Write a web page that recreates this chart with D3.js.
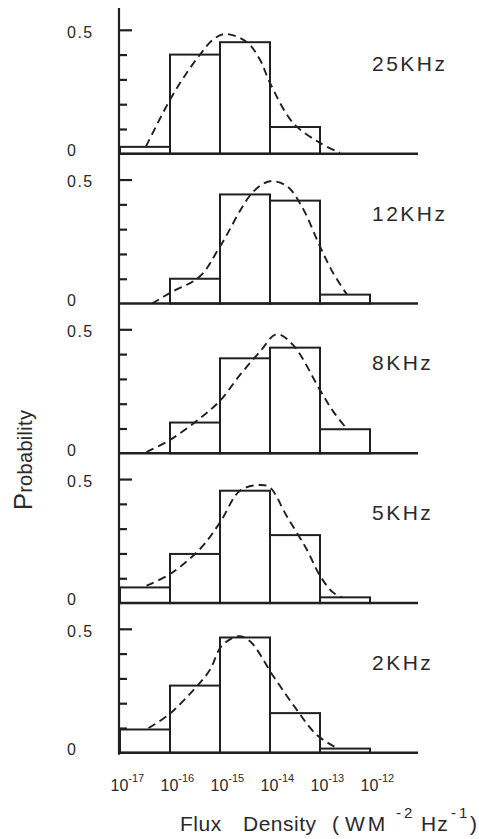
<!DOCTYPE html>
<html>
<head>
<meta charset="utf-8">
<script src="https://cdn.jsdelivr.net/npm/d3@7"></script>
<style>
  html, body { margin: 0; padding: 0; background: #fff; }
  svg { display: block; font-family: "Liberation Sans", Arial, sans-serif; }
</style>
</head>
<body>
<div id="chart"></div>
<script>
// decade bins, 10^-17 .. 10^-12
const decades = [-17, -16, -15, -14, -13, -12]
const freqLabels = ['25KHz', '12KHz', '8KHz', '5KHz', '2KHz']

// histogram heights per bin
const probs25 = [0.028, 0.40, 0.45, 0.108, 0]
const probs12 = [0, 0.10, 0.44, 0.415, 0.036]
const probs8 = [0, 0.124, 0.383, 0.426, 0.097]
const probs5 = [0.063, 0.198, 0.453, 0.274, 0.023]
const probs2 = [0.094, 0.271, 0.465, 0.16, 0.017]

// dashed fits, [log10 flux, probability]
const fit25 = [[-16.48, 0.03], [-16.0, 0.218], [-15.67, 0.325], [-15.4, 0.40], [-15.14, 0.46],
  [-14.9, 0.483], [-14.46, 0.45], [-14.2, 0.379], [-14.0, 0.286], [-13.54, 0.125], [-13.0, 0.044], [-12.6, 0.004]]
const fit12 = [[-16.36, 0.0], [-16.0, 0.043], [-15.4, 0.11], [-15.0, 0.23], [-14.34, 0.45],
  [-14.0, 0.493], [-13.66, 0.473], [-13.36, 0.39], [-13.0, 0.23], [-12.74, 0.124], [-12.46, 0.036]]
const fit8 = [[-16.47, 0.005], [-16.0, 0.054], [-15.4, 0.141], [-15.0, 0.212], [-14.6, 0.316],
  [-14.2, 0.41], [-13.87, 0.48], [-13.54, 0.437], [-13.0, 0.255], [-12.74, 0.17], [-12.46, 0.098]]
const fit5 = [[-16.47, 0.07], [-16.0, 0.117], [-15.4, 0.218], [-15.0, 0.325], [-14.6, 0.453],
  [-14.2, 0.476], [-14.0, 0.466], [-13.67, 0.352], [-13.27, 0.218], [-13.0, 0.11], [-12.74, 0.043], [-12.56, 0.023]]
const fit2 = [[-16.43, 0.10], [-16.03, 0.153], [-15.5, 0.26], [-15.2, 0.335], [-14.97, 0.43],
  [-14.63, 0.47], [-14.4, 0.45], [-13.93, 0.308], [-13.47, 0.175], [-13.07, 0.073], [-12.67, 0.02]]

const panels = freqLabels.map((label, i) => ({
  label,
  probs: [probs25, probs12, probs8, probs5, probs2][i],
  fit: [fit25, fit12, fit8, fit5, fit2][i]
}))

const width = 479
const height = 839
const ink = '#202020'
const textInk = '#2a2a2a'
const font = '"Liberation Sans", Arial, sans-serif'
const panelStep = 149.75

const svg = d3.select('#chart')
  .append('svg')
  .attr('width', width)
  .attr('height', height)

const x = d3.scaleLog().domain([1e-17, 1e-11]).range([120, 420])
const y = d3.scaleLinear().domain([0, 0.6]).range([148.8, 0])

const fitLine = d3.line()
  .x(d => x(Math.pow(10, d[0])))
  .y(d => y(d[1]))
  .curve(d3.curveCatmullRom)

// shared vertical axis
svg.append('line')
  .attr('x1', 119).attr('x2', 119)
  .attr('y1', 8).attr('y2', 5 + panelStep * 4 + y(0) + 2)
  .attr('stroke', ink)
  .attr('stroke-width', 2.2)

panels.forEach((p, i) => {
  const g = svg.append('g')
    .attr('transform', `translate(0, ${5 + panelStep * i})`)

  // bars
  g.selectAll('rect')
    .data(p.probs.map((v, k) => ({v, lo: Math.pow(10, decades[k]), hi: Math.pow(10, decades[k + 1])})).filter(d => d.v > 0))
    .enter()
    .append('rect')
    .attr('x', d => x(d.lo))
    .attr('width', d => x(d.hi) - x(d.lo))
    .attr('y', d => y(d.v))
    .attr('height', d => y(0) - y(d.v))
    .attr('fill', 'none')
    .attr('stroke', ink)
    .attr('stroke-width', 2)

  // baseline
  g.append('line')
    .attr('x1', 118).attr('x2', 418)
    .attr('y1', y(0)).attr('y2', y(0))
    .attr('stroke', ink)
    .attr('stroke-width', 2.6)

  g.append('path')
    .attr('d', fitLine(p.fit))
    .attr('fill', 'none')
    .attr('stroke', ink)
    .attr('stroke-width', 1.9)
    .attr('stroke-dasharray', '8,5')

  // tick marks
  const minor = g.append('g')
    .attr('transform', 'translate(119, 0)')
    .call(d3.axisRight(y).tickValues([0.1, 0.2, 0.3, 0.4]).tickSize(8).tickFormat(''))
  const major = g.append('g')
    .attr('transform', 'translate(119, 0)')
    .call(d3.axisRight(y).tickValues([0.5]).tickSize(13).tickFormat(''))
  ;[minor, major].forEach(a => {
    a.select('.domain').remove()
    a.selectAll('line').attr('stroke', ink).attr('stroke-width', 2.2)
  })

  const labels = g.append('g')
    .attr('transform', 'translate(119, 0)')
    .call(d3.axisLeft(y).tickValues([0, 0.5]).tickSize(0).tickFormat(d => d === 0 ? '0' : '0.5'))
  labels.select('.domain').remove()
  labels.attr('font-size', null).attr('font-family', null)
  labels.selectAll('text')
    .attr('x', -52)
    .attr('dy', d => d === 0 ? '0.12em' : '0.45em')
    .attr('text-anchor', 'start')
    .attr('font-size', 16)
    .attr('font-family', font)
    .attr('letter-spacing', 1.5)
    .attr('fill', textInk)

  g.append('text')
    .attr('x', 372)
    .attr('y', y(0) - 83)
    .attr('font-size', 21)
    .attr('letter-spacing', 2.5)
    .attr('fill', textInk)
    .text(p.label)
})

// decade labels under the bottom panel
const bottom = 5 + panelStep * 4 + y(0)
const xAxis = svg.append('g')
  .attr('transform', `translate(0, ${bottom})`)
  .call(d3.axisBottom(x).tickValues(decades.map(d => Math.pow(10, d))).tickSize(0).tickFormat(''))
xAxis.select('.domain').remove()
xAxis.attr('font-size', null).attr('font-family', null)
xAxis.selectAll('.tick').each(function (d) {
  const t = d3.select(this).append('text')
    .attr('x', -10)
    .attr('y', 38)
    .attr('fill', textInk)
    .attr('font-size', 16)
    .attr('font-family', font)
    .attr('text-anchor', 'start')
  t.append('tspan').text('10')
  t.append('tspan')
    .attr('dy', -9)
    .attr('font-size', 11)
    .text(String(Math.round(Math.log10(d))))
})

// y title
const yTitle = svg.append('text')
  .attr('transform', 'translate(32, 460) rotate(-90)')
  .attr('text-anchor', 'middle')
  .attr('fill', textInk)
yTitle.append('tspan').attr('font-size', 26).text('P')
yTitle.append('tspan').attr('font-size', 20).attr('letter-spacing', 0.3).text('robability')

// x title, one piece at a time
const titleParts = [
  {t: 'Flux', x: 180, ls: 0.5},
  {t: 'Density', x: 243, ls: 0.5},
  {t: '(', x: 332, ls: 0},
  {t: 'WM', x: 345, ls: 3},
  {t: '-2', x: 396, ls: 3, sup: true},
  {t: 'Hz', x: 421, ls: 1},
  {t: '-1', x: 451, ls: 3, sup: true},
  {t: ')', x: 470, ls: 0}
]
svg.append('g')
  .selectAll('text')
  .data(titleParts)
  .enter()
  .append('text')
  .attr('x', d => d.x)
  .attr('y', d => d.sup ? 818 : 831)
  .attr('font-size', d => d.sup ? 15 : 21)
  .attr('letter-spacing', d => d.ls)
  .attr('fill', textInk)
  .text(d => d.t)
</script>
</body>
</html>
